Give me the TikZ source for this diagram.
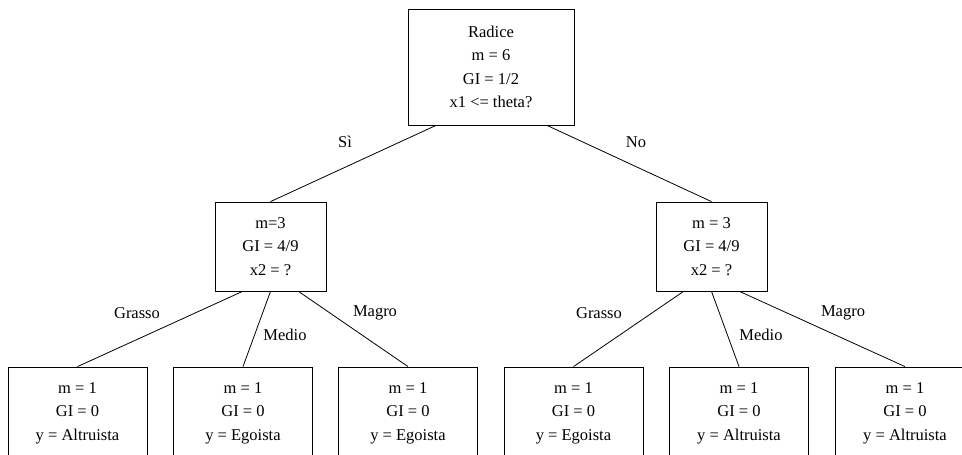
\documentclass[tikz,border=0pt]{standalone}
\usepackage{fontspec}
\setmainfont{Liberation Serif}
\usetikzlibrary{calc}
\begin{document}
\begin{tikzpicture}[x=1pt,y=-1pt,
  every node/.style={font=\fontsize{16.5}{23.5}\selectfont, inner sep=0pt},
  treebox/.style={draw, line width=0.8pt, align=center},
  rootbox/.style={treebox, minimum width=166pt, minimum height=116pt},
  midbox/.style={treebox, minimum width=111pt, minimum height=89pt},
  leafbox/.style={treebox, minimum width=139pt, minimum height=92pt},
  edge/.style={draw, line width=0.8pt},
  elabel/.style={}]
\useasboundingbox (0,0) rectangle (962,455);

\node[rootbox] (root) at (491,67) {Radice\\m = 6\\GI = 1/2\\x1 <= theta?};
\node[midbox] (L) at (270.5,246.5) {m=3\\GI = 4/9\\x2 = ?};
\node[midbox] (R) at (711.5,246.5) {m = 3\\GI = 4/9\\x2 = ?};

\node[leafbox] (l1) at (77.5,413) {m = 1\\GI = 0\\y = Altruista};
\node[leafbox] (l2) at (243,413) {m = 1\\GI = 0\\y = Egoista};
\node[leafbox] (l3) at (408,413) {m = 1\\GI = 0\\y = Egoista};
\node[leafbox] (l4) at (573.5,413) {m = 1\\GI = 0\\y = Egoista};
\node[leafbox] (l5) at (739,413) {m = 1\\GI = 0\\y = Altruista};
\node[leafbox] (l6) at (905,413) {m = 1\\GI = 0\\y = Altruista};

\draw[edge] ($(root.south)+(-55,0)$) -- (L.north);
\draw[edge] ($(root.south)+(56,0)$) -- (R.north);

\draw[edge] ($(L.south)+(-28,0)$) -- (l1.north);
\draw[edge] (L.south) -- (l2.north);
\draw[edge] ($(L.south)+(28,0)$) -- (l3.north);
\draw[edge] ($(R.south)+(-28,0)$) -- (l4.north);
\draw[edge] (R.south) -- (l5.north);
\draw[edge] ($(R.south)+(28,0)$) -- (l6.north);

\node[elabel] (si) at (345,142) {Sì};
\node[elabel] (no) at (636,142) {No};
\node[elabel] (g1) at (137,313) {Grasso};
\node[elabel] (me1) at (285,335) {Medio};
\node[elabel] (ma1) at (375,313) {Magro};
\node[elabel] (g2) at (599,313) {Grasso};
\node[elabel] (me2) at (761,335) {Medio};
\node[elabel] (ma2) at (843,313) {Magro};
\end{tikzpicture}
\end{document}
